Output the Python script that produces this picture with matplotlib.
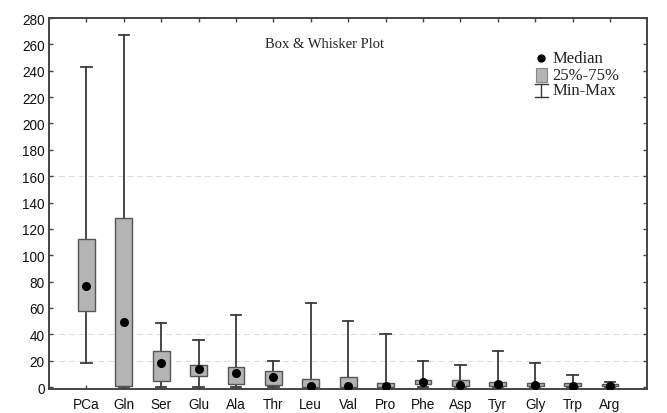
import numpy as np
import matplotlib
matplotlib.use('Agg')
import matplotlib.pyplot as plt
from matplotlib.patches import Rectangle

# amino acid summary stats
amino_acids = ['PCa', 'Gln', 'Ser', 'Glu', 'Ala', 'Thr', 'Leu', 'Val',
               'Pro', 'Phe', 'Asp', 'Tyr', 'Gly', 'Trp', 'Arg']
mins = [18, 0, 0, 0, 0, 0, 0, 0, 0, 0, 0, 0, 0, 0, 0]
q1s = [58, 0.5, 4.5, 8.6, 2, 1.5, 0, 0, 0, 2, 0.5, 1, 0.5, 0.5, 0.5]
medians = [76.6, 49.6, 18.4, 13.4, 10.6, 7.8, 0.5, 1, 0.5, 3.6, 1.5, 2, 1.5, 1, 1]
q3s = [112, 128, 27.3, 16.7, 15.2, 12.4, 6, 7.5, 3, 5, 5, 3.8, 3, 3, 2]
maxs = [243, 267, 48.8, 36, 54.6, 19.7, 64, 50, 40, 20, 16.5, 27.5, 18, 9, 4]
y_ticks = list(range(0, 281, 20))
grid_levels = [20, 40, 160]

box_color = '#b4b4b4'
edge = '#3a3a3a'

fig = plt.figure(figsize=(6.67, 4.14), dpi=100)
ax = fig.add_axes([0.0735, 0.058, 0.897, 0.896])

x = np.arange(1, len(amino_acids) + 1)
box_w = 0.45
cap_w = 0.28

for lvl in grid_levels:
    ax.axhline(lvl, color='#dcdcdc', lw=0.7, ls=(0, (6, 4)), zorder=0)

for xi, lo, a, m, b, hi in zip(x, mins, q1s, medians, q3s, maxs):
    # whiskers + caps
    ax.plot([xi, xi], [lo, hi], color=edge, lw=1.3, zorder=1)
    ax.plot([xi - cap_w / 2, xi + cap_w / 2], [hi, hi], color=edge, lw=1.3, zorder=1)
    ax.plot([xi - cap_w / 2, xi + cap_w / 2], [lo, lo], color=edge, lw=1.3, zorder=1)
    ax.add_patch(Rectangle((xi - box_w / 2, a), box_w, b - a,
                           facecolor=box_color, edgecolor='#555555', lw=1.0, zorder=2))
    ax.plot(xi, m, 'o', color='black', ms=5.5, zorder=3)

ax.set_xlim(0, 16)
ax.set_ylim(-1.5, 280)
ax.set_xticks(x)
ax.set_xticklabels(amino_acids)
ax.set_yticks(y_ticks)

for sp in ax.spines.values():
    sp.set_color('#444444')
    sp.set_linewidth(1.4)

ax.tick_params(axis='both', which='both', direction='in', length=3, width=1,
               color='#444444', top=True, right=True,
               labelsize=9.8, labelcolor='#111111')
ax.tick_params(axis='x', pad=6)
ax.tick_params(axis='y', pad=3)
for lab in ax.get_xticklabels() + ax.get_yticklabels():
    lab.set_family('Liberation Sans')

ax.text(0.46, 0.932, 'Box & Whisker Plot', transform=ax.transAxes,
        ha='center', va='center', family='Liberation Serif', fontsize=10.5,
        color='#222222')

# hand-drawn legend in axes fraction
serif = dict(family='Liberation Serif', fontsize=12, color='#222222', va='center')
lx = 0.823
ax.plot(lx, 0.892, 'o', color='black', ms=5, transform=ax.transAxes, clip_on=False)
ax.add_patch(Rectangle((lx - 0.009, 0.827), 0.018, 0.038, transform=ax.transAxes,
                       facecolor=box_color, edgecolor='#888888', lw=0.8))
ax.plot([lx, lx], [0.787, 0.822], color=edge, lw=1, transform=ax.transAxes)
for yy in (0.787, 0.822):
    ax.plot([lx - 0.011, lx + 0.011], [yy, yy], color=edge, lw=1, transform=ax.transAxes)
for yy, txt in zip([0.892, 0.846, 0.806], ['Median', '25%-75%', 'Min-Max']):
    ax.text(lx + 0.018, yy, txt, transform=ax.transAxes, **serif)

fig.savefig('out.png', dpi=100)
